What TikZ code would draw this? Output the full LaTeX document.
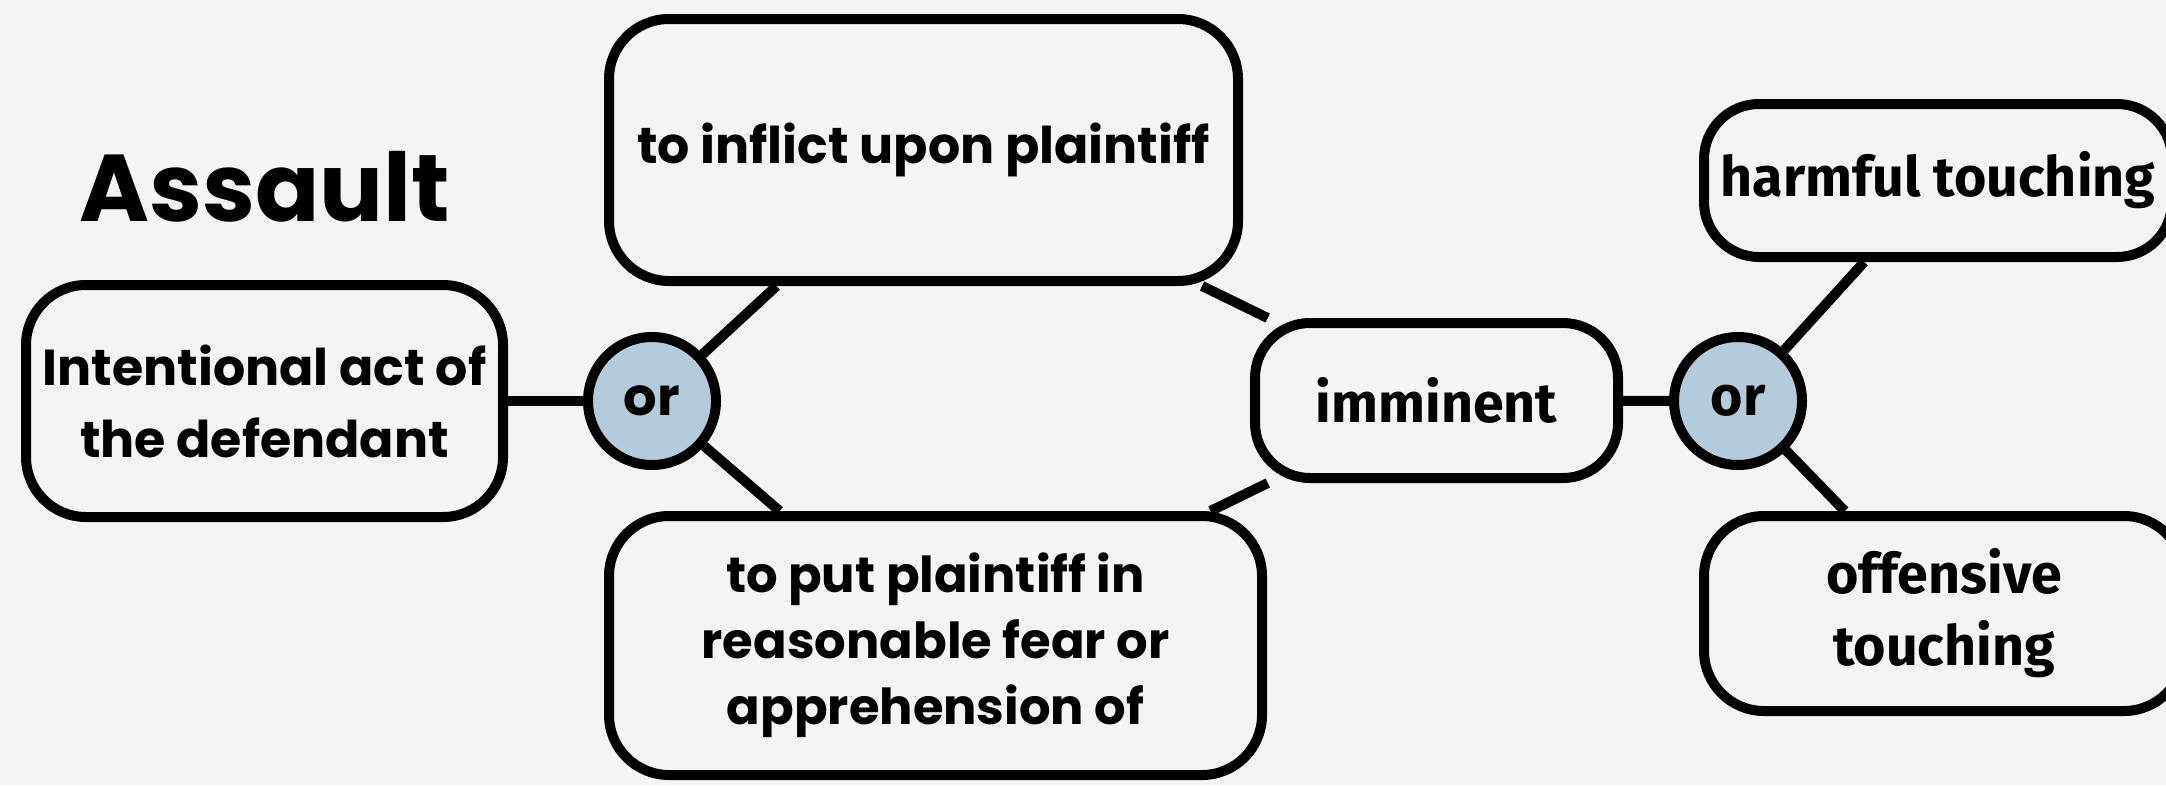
\documentclass[tikz,border=0pt]{standalone}
\usepackage{fontspec}
\setmainfont{Poppins}
\newfontfamily\fira{Fira Sans}
\usetikzlibrary{backgrounds}
\definecolor{bgc}{HTML}{F4F4F4}
\definecolor{orcol}{HTML}{B5CADA}
\begin{document}
\begin{tikzpicture}[
  box/.style={draw=black, line width=0.1cm, rounded corners=0.6cm, fill=bgc,
    align=center, inner sep=0pt, font=\bfseries\fontsize{14.4}{20.5}\selectfont},
  firabox/.style={box, font=\fira\bfseries\fontsize{15.8}{20.5}\selectfont},
  ornode/.style={circle, draw=black, line width=0.1cm, fill=orcol,
    minimum size=1.28cm, inner sep=0pt},
  link/.style={draw=black, line width=0.1cm}
]
\begin{pgfonlayer}{background}
\fill[bgc] (0,0) rectangle (21.66,-7.85);
\end{pgfonlayer}
\useasboundingbox (0,0) rectangle (21.66,-7.85);

\node[anchor=base, font=\bfseries\fontsize{27}{32}\selectfont] (title) at (2.65,-2.21) {Assault};

\node[box, minimum width=4.77cm, minimum height=2.32cm] (act) at (2.645,-4.01)
  {Intentional act of\\the defendant};
\node[box, minimum width=6.29cm, minimum height=2.62cm] (inflict) at (9.235,-1.50)
  {to inflict upon plaintiff};
\node[box, minimum width=6.53cm, minimum height=2.59cm,
  font=\bfseries\fontsize{14.1}{18.8}\selectfont] (fear) at (9.355,-6.455)
  {to put plaintiff in\\reasonable fear or\\apprehension of};
\node[firabox, rounded corners=0.55cm, minimum width=3.63cm, minimum height=1.55cm] (imm) at (14.365,-4.005)
  {imminent};
\node[ornode, font=\bfseries\fontsize{15}{18}\selectfont] (or1) at (6.52,-4.01) {or};
\node[ornode, font=\fira\bfseries\fontsize{15.8}{18}\selectfont] (or2) at (17.38,-4.01) {or};
\node[firabox, rounded corners=0.55cm, minimum width=4.68cm, minimum height=1.53cm] (harm) at (19.38,-1.805)
  {harmful touching};
\node[firabox, minimum width=4.80cm, minimum height=1.95cm] (off) at (19.44,-6.135)
  {offensive\\touching};

\begin{pgfonlayer}{background}
\draw[link] (act) -- (or1);
\draw[link] (or1) -- (inflict);
\draw[link] (or1) -- (fear);
\draw[link] (inflict) -- (imm);
\draw[link] (fear) -- (imm);
\draw[link] (imm) -- (or2);
\draw[link] (or2) -- (harm);
\draw[link] (or2) -- (off);
\end{pgfonlayer}
\end{tikzpicture}
\end{document}
